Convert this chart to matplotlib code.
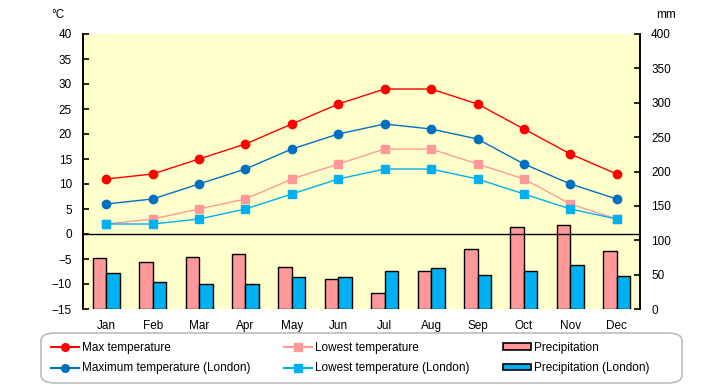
import matplotlib

matplotlib.use("Agg")
import matplotlib.pyplot as plt
from matplotlib.patches import FancyBboxPatch
from matplotlib.lines import Line2D
from matplotlib.patches import Patch
import numpy as np

plt.rcParams["font.family"] = ["Liberation Sans", "DejaVu Sans", "Noto Sans CJK JP"]

months = ["Jan", "Feb", "Mar", "Apr", "May", "Jun",
          "Jul", "Aug", "Sep", "Oct", "Nov", "Dec"]
max_temp = [11, 12, 15, 18, 22, 26, 29, 29, 26, 21, 16, 12]
low_temp = [2, 3, 5, 7, 11, 14, 17, 17, 14, 11, 6, 3]
max_temp_london = [6, 7, 10, 13, 17, 20, 22, 21, 19, 14, 10, 7]
low_temp_london = [2, 2, 3, 5, 8, 11, 13, 13, 11, 8, 5, 3]
precip = [74, 69, 76, 80, 61, 43, 24, 56, 88, 120, 122, 85]
precip_london = [53, 40, 37, 37, 46, 46, 56, 59, 49, 56, 64, 48]

RED = "#FF0000"
DBLUE = "#0070C0"
PINK = "#FF9999"
LBLUE = "#00B0F0"
FS = 8.5

W, H = 720, 385
fig = plt.figure(figsize=(W / 100, H / 100), dpi=100)
ax = fig.add_axes([83 / W, 1 - 309 / H, 557 / W, 275 / H])
ax.set_facecolor("#FFFFCC")
x = np.arange(len(months))
bw = 0.29

# precipitation on the right scale (drawn first, lines go on top)
ax.bar(x - bw / 2, precip, bw, color=PINK, edgecolor="black", linewidth=1)
ax.bar(x + bw / 2, precip_london, bw, color=LBLUE, edgecolor="black", linewidth=1)
ax.set_ylim(0, 400)
ax.set_yticks(range(0, 401, 50))
ax.set_xlim(-0.5, 11.5)
ax.set_xticks(x)
ax.set_xticklabels(months)

ax2 = ax.twinx()
ax.yaxis.tick_right()
ax.yaxis.set_label_position("right")
ax2.yaxis.tick_left()
ax2.yaxis.set_label_position("left")
ax2.set_ylim(-15, 40)
ax2.set_yticks(range(-15, 41, 5))
ax2.axhline(0, color="black", linewidth=1)
ax2.plot(x, max_temp, color=RED, marker="o", markersize=6, linewidth=1)
ax2.plot(x, max_temp_london, color=DBLUE, marker="o", markersize=6, linewidth=1)
ax2.plot(x, low_temp, color=PINK, marker="s", markersize=6, linewidth=1)
ax2.plot(x, low_temp_london, color=LBLUE, marker="s", markersize=6, linewidth=1)

for a in (ax, ax2):
    a.spines["top"].set_visible(False)
    a.spines["bottom"].set_visible(False)
    a.spines["left"].set_linewidth(1.2)
    a.spines["right"].set_linewidth(1.2)
    a.tick_params(axis="y", direction="in", length=4, width=1.2, labelsize=FS, pad=8)
    a.tick_params(axis="x", length=0, labelsize=FS, pad=8)

fig.text(58 / W, 1 - 15 / H, "°C", fontsize=FS, ha="center", va="center")
fig.text(666 / W, 1 - 15 / H, "mm", fontsize=FS, ha="center", va="center")

# legend frame
frame = FancyBboxPatch((41 / W, 1 - 383 / H), 641 / W, 50 / H,
                       boxstyle="round,pad=0,rounding_size=0.02",
                       transform=fig.transFigure, facecolor="white",
                       edgecolor="#BBBBBB", linewidth=1.2)
fig.add_artist(frame)

handles = [
    Line2D([], [], color=RED, marker="o", markersize=5.5),
    Line2D([], [], color=DBLUE, marker="o", markersize=5.5),
    Line2D([], [], color=PINK, marker="s", markersize=5.5),
    Line2D([], [], color=LBLUE, marker="s", markersize=5.5),
    Patch(facecolor=PINK, edgecolor="black", linewidth=1.2),
    Patch(facecolor=LBLUE, edgecolor="black", linewidth=1.2),
]
labels = ["Max temperature", "Maximum temperature (London)",
          "Lowest temperature", "Lowest temperature (London)",
          "Precipitation", "Precipitation (London)"]
fig.legend(handles, labels, loc="center left", bbox_to_anchor=(45 / W, 1 - 358 / H),
           ncol=3, frameon=False, fontsize=FS, handlelength=2.4, handleheight=0.45,
           handletextpad=0.25, columnspacing=2.8, labelspacing=0.75, borderpad=0)

fig.savefig("out.png", dpi=100)
